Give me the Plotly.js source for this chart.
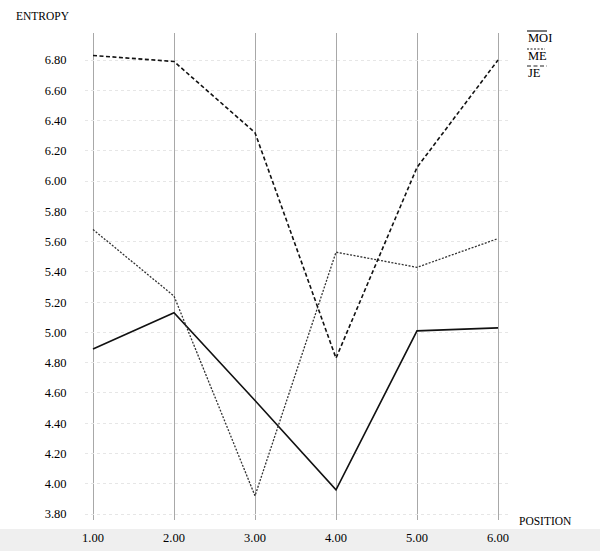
<!DOCTYPE html>
<html>
<head>
<meta charset="utf-8">
<script src="https://cdn.plot.ly/plotly-3.0.1.min.js"></script>
<style>html,body{margin:0;padding:0;background:#fff;}#chart{width:600px;height:551px;}</style>
</head>
<body>
<div id="chart"></div>
<script>
const positions = [1, 2, 3, 4, 5, 6];
const tickLabels = ["1.00", "2.00", "3.00", "4.00", "5.00", "6.00"];
const moi = [4.89, 5.13, 4.55, 3.96, 5.01, 5.03];
const me  = [5.68, 5.24, 3.92, 5.53, 5.43, 5.62];
const je  = [6.83, 6.79, 6.32, 4.83, 6.09, 6.80];
const yTicks = [3.8, 4.0, 4.2, 4.4, 4.6, 4.8, 5.0, 5.2, 5.4, 5.6, 5.8, 6.0, 6.2, 6.4, 6.6, 6.8];
const seriesNames = ["MOI", "ME", "JE"];

const W = 600, H = 551;
const L = 85, R = 510, T = 33, B = 520;
const px = x => (x - L) / (R - L);
const py = y => (B - y) / (B - T);

const font = "Liberation Serif, Times New Roman, serif";

const traces = [
  {x: positions, y: moi, name: seriesNames[0], mode: "lines", line: {color: "#111", width: 1.6}},
  {x: positions, y: me,  name: seriesNames[1], mode: "lines", line: {color: "#333", width: 1.3, dash: "2px,1.5px"}},
  {x: positions, y: je,  name: seriesNames[2], mode: "lines", line: {color: "#111", width: 1.6, dash: "4px,2.5px"}}
];

const legendY = [38, 56, 73];
const legendDash = ["solid", "2px,1.5px", "4px,2.5px"];
const legendLineEnd = [547, 545, 547];

const annotations = [
  {xref: "paper", yref: "paper", x: px(14), y: py(16), xanchor: "left", yanchor: "middle",
   text: "ENTROPY", showarrow: false, font: {family: font, size: 11.5, color: "#000"}},
  {xref: "paper", yref: "paper", x: px(517), y: py(521), xanchor: "left", yanchor: "middle",
   text: "POSITION", showarrow: false, font: {family: font, size: 11.5, color: "#000"}}
];
const shapes = [
  {type: "rect", xref: "paper", yref: "paper", x0: px(0), x1: px(W), y0: py(529), y1: py(H + 5),
   fillcolor: "#efefef", line: {width: 0}, layer: "below"}
];
seriesNames.forEach((n, i) => {
  annotations.push({xref: "paper", yref: "paper", x: px(526), y: py(legendY[i]), xanchor: "left", yanchor: "middle",
    text: n, showarrow: false, font: {family: font, size: 12.5, color: "#000"}});
  shapes.push({type: "line", xref: "paper", yref: "paper", x0: px(527), x1: px(legendLineEnd[i]),
    y0: py(legendY[i] - 7), y1: py(legendY[i] - 7), line: {color: "#222", width: 1.2, dash: legendDash[i]}});
});

const layout = {
  width: W, height: H,
  margin: {l: L, r: W - R, t: T, b: H - B},
  paper_bgcolor: "#fff", plot_bgcolor: "rgba(0,0,0,0)",
  showlegend: false,
  xaxis: {
    range: [1 - (93 - L) / 81, 6 + (R - 498) / 81],
    tickvals: positions, ticktext: tickLabels,
    showgrid: true, gridcolor: "#a8a8a8", gridwidth: 1,
    zeroline: false, showline: false,
    ticks: "outside", ticklen: 6, tickcolor: "rgba(0,0,0,0)",
    tickfont: {family: font, size: 12.5, color: "#000"}
  },
  yaxis: {
    range: [3.8 - (B - 514) / 151.35, 6.8 + (60 - T) / 151.35],
    tickvals: yTicks, ticktext: yTicks.map(v => v.toFixed(2)),
    showgrid: true, gridcolor: "#e6e6e6", gridwidth: 1, griddash: "dot",
    zeroline: false, showline: false,
    ticks: "outside", ticklen: 15, tickcolor: "rgba(0,0,0,0)",
    ticklabelstandoff: 0,
    tickfont: {family: font, size: 12.5, color: "#000"}
  },
  annotations: annotations,
  shapes: shapes
};

Plotly.newPlot("chart", traces, layout, {displayModeBar: false, staticPlot: true});
</script>
</body>
</html>
